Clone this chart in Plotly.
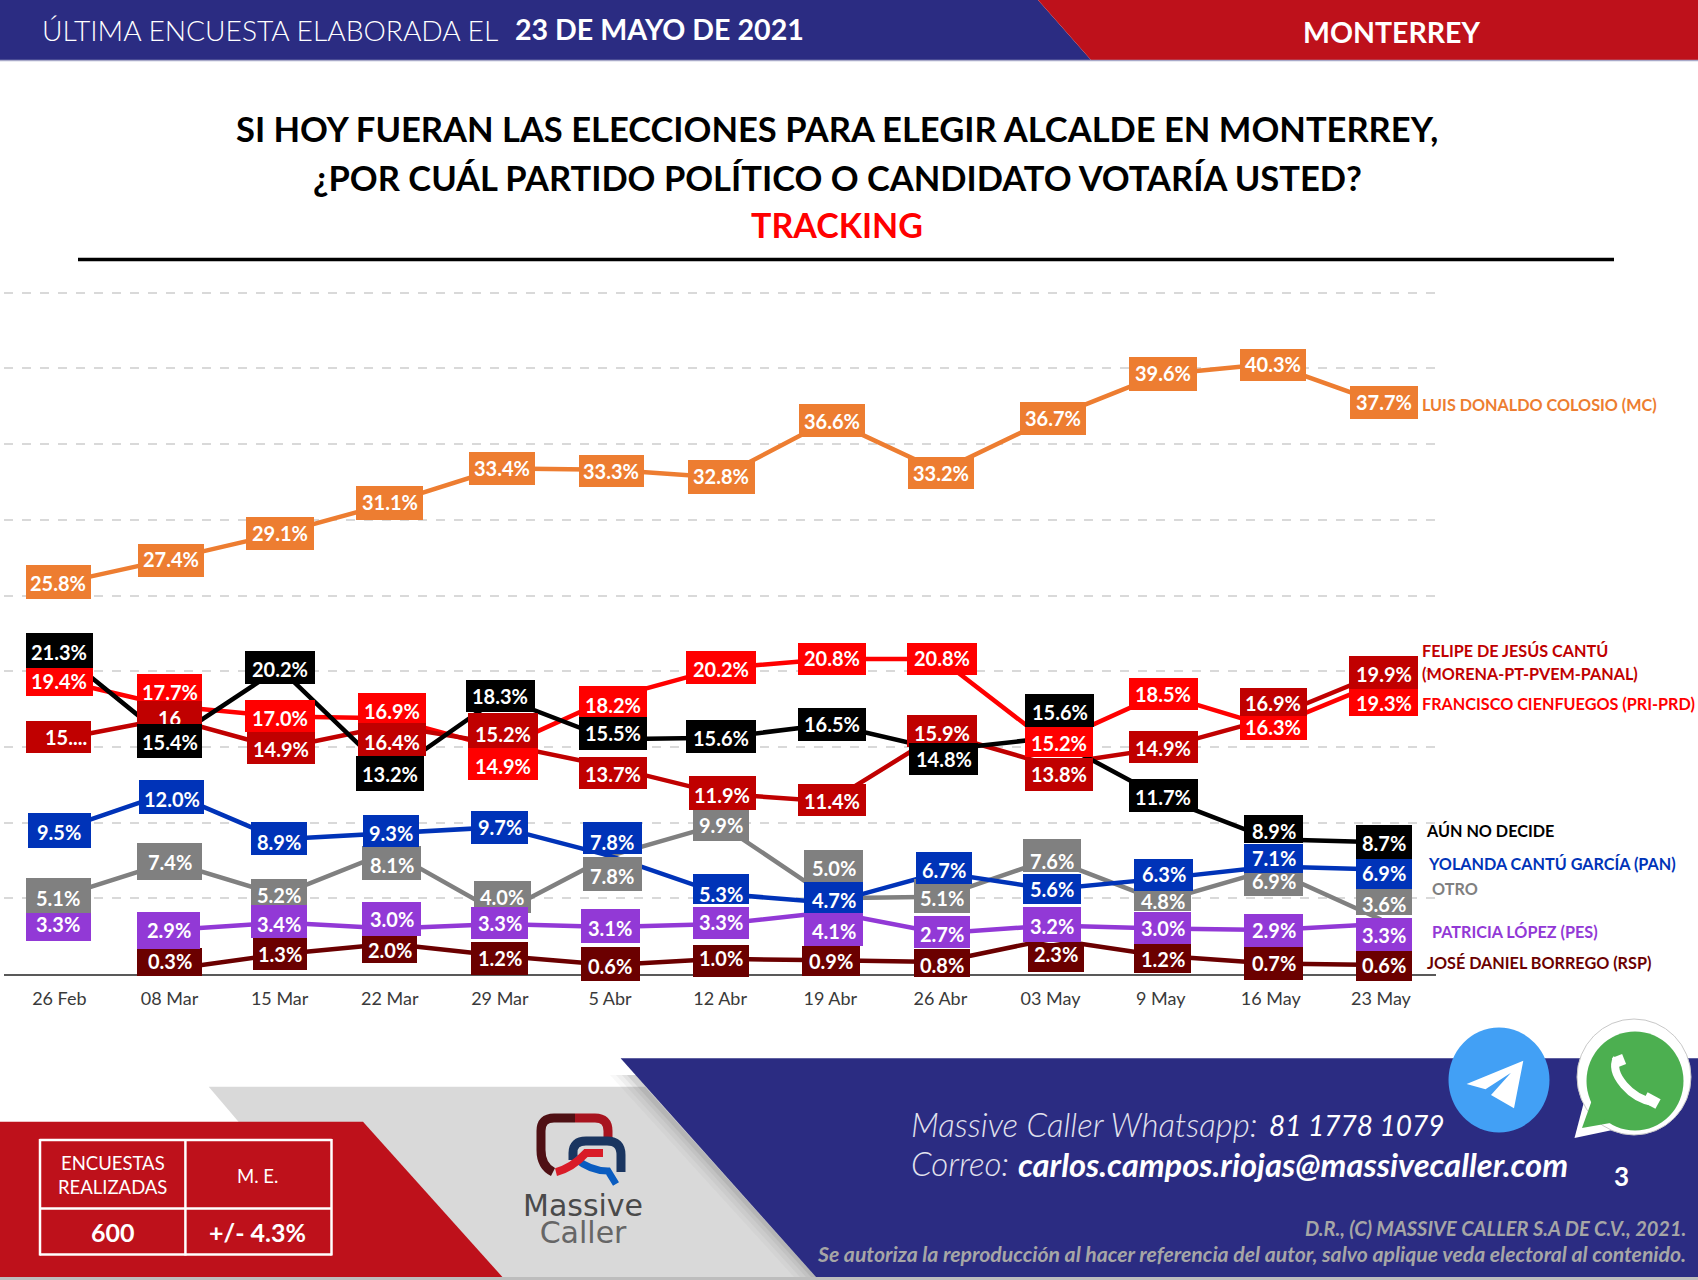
import plotly.graph_objects as go

W, H = 1698, 1280

categories = ["26 Feb", "08 Mar", "15 Mar", "22 Mar", "29 Mar", "5 Abr", "12 Abr", "19 Abr", "26 Abr", "03 May", "9 May", "16 May", "23 May"]
colosio = [25.8, 27.4, 29.1, 31.1, 33.4, 33.3, 32.8, 36.6, 33.2, 36.7, 39.6, 40.3, 37.7]
cienfuegos = [19.4, 17.7, 17.0, 16.9, 14.9, 18.2, 20.2, 20.8, 20.8, 15.2, 18.5, 16.3, 19.3]
cantu = [15.5, 16.9, 14.9, 16.4, 15.2, 13.7, 11.9, 11.4, 15.9, 13.8, 14.9, 16.9, 19.9]
no_decide = [21.3, 15.4, 20.2, 13.2, 18.3, 15.5, 15.6, 16.5, 14.8, 15.6, 11.7, 8.9, 8.7]
yolanda = [9.5, 12.0, 8.9, 9.3, 9.7, 7.8, 5.3, 4.7, 6.7, 5.6, 6.3, 7.1, 6.9]
otro = [5.1, 7.4, 5.2, 8.1, 4.0, 7.8, 9.9, 5.0, 5.1, 7.6, 4.8, 6.9, 3.6]
patricia = [3.3, 2.9, 3.4, 3.0, 3.3, 3.1, 3.3, 4.1, 2.7, 3.2, 3.0, 2.9, 3.3]
borrego = [None, 0.3, 1.3, 2.0, 1.2, 0.6, 1.0, 0.9, 0.8, 2.3, 1.2, 0.7, 0.6]
y_ticks = [0, 5, 10, 15, 20, 25, 30, 35, 40, 45]

# Label boxes: pixel nudges from the data point, box sizes, and text nudge inside the box (layout only).
OFFSETS = {
    "colosio": dict(
        dx=[-1, 1, 0, 0, 2, 1, 1, 1.5, 1, 2, 2.7, 2, 3.4],
        dy=[-1, 1, 0, 0, 0, 1, 0, 1, 2, 0, 0, 1, -1],
        w=[65, 66, 68, 67, 66, 65, 67, 66, 66, 66, 68, 66, 68],
        h=[34, 33, 33, 34, 33, 32, 34, 33, 32, 33, 34, 32, 33],
        ty=[1, -1, 0, -1, 0, 0, -1, 0, 0, 0, -1, -1, 0]),
    "cienfuegos": dict(
        dx=[0, 0, 0, 2, 2.7, 3, 1, 1.5, 1.4, 8, 2.5, 2.6, 3],
        dy=[2, -15, -1, -10, 16, 3, -1, 0, 0, -2, 0, 1, 20],
        w=[67, 65, 70, 68, 70, 68, 70, 68, 70, 68, 69, 67, 69],
        h=[28, 35, 32, 31, 32, 31, 33, 32, 32, 30, 32, 24, 28],
        ty=[-1, 1, 2, 3, 2, 4, 2, -1, -1, 1, 0, -1, 1]),
    "cantu": dict(
        dx=[-1, 0, 1, 2, 2.7, 3, 2, 1.5, 1.4, 8, 2.5, 2.6, 3],
        dy=[-2, 0, 0, 14, -13, 6, -1, -1, -2, 9, -1, -16, 0],
        w=[65, 65, 68, 68, 70, 68, 67, 68, 70, 68, 69, 67, 69],
        h=[32, 34, 32, 33, 35, 32, 34, 32, 32, 33, 32, 28, 33],
        ty=[0, 0, 1, 2, 3, 1, 2, 1, 2, 0, 1, 1, 1]),
    "no_decide": dict(
        dx=[0, 0, 0, 0, 0.5, 3, 1, 1.5, 3.4, 9, 2.5, 3, 3],
        dy=[-1, 0, -1, -1, -1, -6, -1, 0, 9, -27, -1, -10, 0],
        w=[67, 65, 70, 68, 69, 68, 70, 68, 69, 69, 69, 59, 56],
        h=[35, 34, 33, 35, 32, 33, 33, 33, 32, 33, 33, 28, 34],
        ty=[1, 1, 2, 1, 0, 0, 1, 0, 0, 1, 1, 2, 1]),
    "yolanda": dict(
        dx=[0, 2, -1, 1, 0, 2.4, 1, 3.5, 3.4, 1, 3, 3, 3],
        dy=[0, 5, -1, -2, 0, -18, -5, -5, -5, 0, -4, -8, 4],
        w=[63, 65, 56, 56, 57, 59, 56, 59, 56, 58, 59, 59, 56],
        h=[35, 34, 33, 32, 33, 32, 30, 31, 32, 30, 32, 29, 30],
        ty=[2, 2, 4, 2, 0, 4, 5, 2, 2, 0, -1, -1, -1]),
    "otro": dict(
        dx=[-1, 0, -1, 2, 2.5, 2.4, 1, 3.5, 1.4, 1, 2, 3, 3],
        dy=[-1, 0, 0, 12, -16, 18, 0, -32, -1, -3, -4, 12, -20],
        w=[65, 65, 56, 59, 57, 59, 56, 59, 56, 58, 57, 59, 56],
        h=[35, 37, 33, 34, 32, 34, 34, 33, 34, 33, 28, 28, 30],
        ty=[2, 0, 0, 2, 0, 2, 1, 2, 2, 5, 4, -1, 4]),
    "patricia": dict(
        dx=[-1, -1, -1, 2, 0, 0, 1, 3.5, 1.4, 1, 2, 3, 3],
        dy=[3, 0, -1, -10, -1, -1, -1, 18, -1, -1, -1, 0, 10],
        w=[65, 63, 56, 59, 57, 59, 56, 59, 56, 58, 57, 59, 56],
        h=[28, 37, 33, 34, 32, 34, 32, 33, 32, 35, 32, 33, 33],
        ty=[-3, 0, 2, 0, 0, 2, -1, 1, 2, 1, 0, 0, 1]),
    "borrego": dict(
        dx=[0, 0, 0, 0, 0, 0, 1, 1, 1.4, 5, 2, 3, 3],
        dy=[0, -7, 0, 4, 3, -1, 2, 1, 1, 18, 3, 0, 1],
        w=[0, 65, 54, 55, 57, 59, 56, 58, 56, 56, 57, 59, 56],
        h=[0, 28, 32, 30, 33, 34, 32, 30, 28, 29, 29, 33, 30],
        ty=[0, -1, 0, 2, -1, 2, -3, 0, 2, -3, 0, 0, -1]),
}
TEXT_OVERRIDES = {("cantu", 0): "15....", ("cantu", 1): "16"}
TEXT_DX = {("cantu", 0): 8}

COLORS = dict(colosio="#ED7D31", cienfuegos="#FF0000", cantu="#C00000", no_decide="#000000",
              yolanda="#0033B8", otro="#808080", patricia="#9239D6", borrego="#6B0000")
SERIES = dict(colosio=colosio, cienfuegos=cienfuegos, cantu=cantu, no_decide=no_decide,
              yolanda=yolanda, otro=otro, patricia=patricia, borrego=borrego)

NAVY, RED, GREY = "#2B2C82", "#BE111B", "#D9D9D9"
FONT = "Lato"
# The y axis runs slightly past 45 so that the top gridline is drawn.
Y_MAX = 46
AXIS_PX_BOTTOM, PX_PER_UNIT = 974, 15.14


def fx(x):
    return x / W


def fy(y):
    return 1 - y / H


def pt(x, y):
    return f"{fx(x):.5f},{fy(y):.5f}"


def poly(points, fill, opacity=1.0):
    d = "M " + " L ".join(pt(*p) for p in points) + " Z"
    return dict(type="path", xref="paper", yref="paper", path=d, fillcolor=fill,
                opacity=opacity, line=dict(width=0), layer="below")


def stroke(d, color, width):
    return dict(type="path", xref="paper", yref="paper", path=d,
                line=dict(color=color, width=width), layer="below")


def circle(cx, cy, rx, ry, fill, line=None):
    return dict(type="circle", xref="paper", yref="paper", x0=fx(cx - rx), x1=fx(cx + rx),
                y0=fy(cy + ry), y1=fy(cy - ry), fillcolor=fill,
                line=dict(color=line or fill, width=1 if line else 0), layer="below")


def hline(x0, x1, y, color, width):
    return dict(type="line", xref="paper", yref="paper", x0=fx(x0), x1=fx(x1), y0=fy(y), y1=fy(y),
                line=dict(color=color, width=width), layer="below")


def vline(x, y0, y1, color, width):
    return dict(type="line", xref="paper", yref="paper", x0=fx(x), x1=fx(x), y0=fy(y0), y1=fy(y1),
                line=dict(color=color, width=width), layer="below")


shapes = [
    poly([(0, 0), (1038, 0), (1091, 60), (0, 60)], NAVY),
    poly([(1038, 0), (W, 0), (W, 60), (1091, 60)], RED),
    hline(0, W, 60.5, "#A9AAC9", 1.5),
    hline(78, 1614, 259.5, "#000000", 3.5),
    poly([(208.7, 1086.7), (645, 1086.7), (816, 1277), (502, 1277), (238.5, 1121.7)], GREY),
]
for k, op in [(22, 0.04), (16, 0.06), (10, 0.08), (5, 0.11)]:
    shapes.append(poly([(632 - k, 1075), (700, 1075), (830, 1277), (816 - k, 1277)], "#555555", op))
shapes += [
    poly([(620.6, 1058.3), (W, 1058.3), (W, 1277), (816, 1277)], NAVY),
    poly([(0, 1121.7), (363, 1121.7), (502.4, 1277), (0, 1277)], RED),
    hline(0, W, 1278.5, "#BDBDBD", 3),
    # survey box
    hline(39.6, 331.7, 1140, "#FFFFFF", 2.5), hline(39.6, 331.7, 1208.5, "#FFFFFF", 2.5),
    hline(39.6, 331.7, 1254.5, "#FFFFFF", 2.5),
    vline(40, 1139, 1255.5, "#FFFFFF", 2.5), vline(185.4, 1139, 1255.5, "#FFFFFF", 2.5),
    vline(331.5, 1139, 1255.5, "#FFFFFF", 2.5),
    # logo
    stroke(f"M {pt(553,1172)} Q {pt(541,1166)} {pt(541,1150)} L {pt(541,1131)} Q {pt(541,1118)} {pt(554,1118)} L {pt(575,1118)}", "#4F1014", 9),
    stroke(f"M {pt(575,1118)} L {pt(595,1118)} Q {pt(608,1118)} {pt(608,1131)} L {pt(608,1140)}", "#A8141F", 9),
    stroke(f"M {pt(573,1160)} L {pt(573,1153)} Q {pt(573,1141)} {pt(586,1141)} L {pt(607,1141)} Q {pt(621,1141)} {pt(621,1155)} L {pt(621,1172)}", "#1A3560", 9),
    stroke(f"M {pt(575,1158)} Q {pt(590,1171)} {pt(608,1171)} L {pt(616,1184)}", "#0A5CC0", 7),
    stroke(f"M {pt(556,1172)} Q {pt(572,1168)} {pt(586,1153)} L {pt(603,1153)}", "#D91C28", 8),
    # telegram
    circle(1499, 1080, 50.5, 52.5, "#42A0F5"),
    poly([(1523.3, 1060.7), (1466.6, 1084), (1485.5, 1089.3), (1511, 1072.7), (1491, 1095), (1514, 1108.3)], "#FFFFFF"),
    # whatsapp
    poly([(1574.5, 1138), (1585, 1098), (1622, 1128)], "#FFFFFF"),
    circle(1634, 1077, 57, 58, "#FFFFFF", "#C8C8C8"),
    poly([(1582, 1128), (1592, 1100), (1616, 1122)], "#4CAF50"),
    circle(1635, 1081, 48.5, 49.5, "#4CAF50"),
    stroke(f"M {pt(1617,1058)} Q {pt(1611,1070)} {pt(1624,1085)} Q {pt(1636,1099)} {pt(1653,1102)}", "#FFFFFF", 8),
    stroke(f"M {pt(1617,1056)} L {pt(1621,1066)}", "#FFFFFF", 11),
    stroke(f"M {pt(1645,1097)} L {pt(1658,1104)}", "#FFFFFF", 11),
]

fig = go.Figure()
for key in ["otro", "patricia", "borrego", "yolanda", "cienfuegos", "cantu", "no_decide", "colosio"]:
    values = SERIES[key]
    line_values = [None] + values[1:] if key == "patricia" else values
    fig.add_trace(go.Scatter(x=categories, y=line_values, mode="lines", name=key,
                             line=dict(color=COLORS[key], width=4.5), connectgaps=False,
                             hoverinfo="skip", cliponaxis=False))

annotations = []
for key in ["colosio", "borrego", "otro", "patricia", "yolanda", "cienfuegos", "cantu", "no_decide"]:
    off = OFFSETS[key]
    for i, v in enumerate(SERIES[key]):
        if v is None:
            continue
        annotations.append(dict(
            x=categories[i], y=v, xref="x", yref="y", showarrow=False, text=" ",
            xshift=off["dx"][i], yshift=-off["dy"][i],
            width=off["w"][i], height=off["h"][i],
            bgcolor=COLORS[key], borderpad=0, borderwidth=0,
            font=dict(family=FONT, size=10, color=COLORS[key]),
        ))
        annotations.append(dict(
            x=categories[i], y=v, xref="x", yref="y", showarrow=False,
            text=TEXT_OVERRIDES.get((key, i), f"{v:.1f}%"),
            xshift=off["dx"][i] + TEXT_DX.get((key, i), 0),
            yshift=-(off["dy"][i] + off["ty"][i]),
            borderpad=0, borderwidth=0,
            font=dict(family=FONT, size=20, color="#FFFFFF", weight=700),
        ))


def note(x, y, text, size, color, anchor="left", weight=400, style="normal", family=FONT):
    annotations.append(dict(
        x=fx(x), y=fy(y), xref="paper", yref="paper", text=text, showarrow=False,
        xanchor=anchor, yanchor="middle", borderpad=0,
        font=dict(family=family, size=size, color=color, weight=weight, style=style)))


# Header
note(41, 29.5, "ÚLTIMA ENCUESTA ELABORADA EL", 28.2, "#FFFFFF", weight=300)
note(514, 29, "23 DE MAYO DE 2021", 28.6, "#FFFFFF", weight=700)
note(1391, 32, "MONTERREY", 28.5, "#FFFFFF", "center", 700)
# Title
note(837, 128.5, "SI HOY FUERAN LAS ELECCIONES PARA ELEGIR ALCALDE EN MONTERREY,", 34.5, "#000000", "center", 700)
note(837, 177.5, "¿POR CUÁL PARTIDO POLÍTICO O CANDIDATO VOTARÍA USTED?", 34.5, "#000000", "center", 700)
note(837, 224, "TRACKING", 34, "#FF0000", "center", 700)
# Series names
note(1420.5, 404.5, "LUIS DONALDO COLOSIO (MC)", 16.2, COLORS["colosio"], weight=700)
note(1421, 650.5, "FELIPE DE JESÚS CANTÚ", 16.2, COLORS["cantu"], weight=700)
note(1421, 673, "(MORENA-PT-PVEM-PANAL)", 16.2, COLORS["cantu"], weight=700)
note(1421, 703.5, "FRANCISCO CIENFUEGOS (PRI-PRD)", 16.2, COLORS["cienfuegos"], weight=700)
note(1424.5, 830.5, "AÚN NO DECIDE", 16.2, "#000000", weight=700)
note(1427, 863.5, "YOLANDA CANTÚ GARCÍA (PAN)", 16.2, COLORS["yolanda"], weight=700)
note(1431, 888, "OTRO", 16.2, COLORS["otro"], weight=700)
note(1431, 931.5, "PATRICIA LÓPEZ (PES)", 16.2, COLORS["patricia"], weight=700)
note(1426, 962.5, "JOSÉ DANIEL BORREGO (RSP)", 16.2, COLORS["borrego"], weight=700)
# Survey box
note(112.5, 1162.5, "ENCUESTAS", 18.5, "#FFFFFF", "center")
note(112.5, 1187, "REALIZADAS", 18.5, "#FFFFFF", "center")
note(257.5, 1175.5, "M. E.", 18.5, "#FFFFFF", "center")
note(112.5, 1232, "600", 25, "#FFFFFF", "center", 700)
note(257.5, 1232, "+/- 4.3%", 25, "#FFFFFF", "center", 700)
# Logo words: one text block with tight line spacing (set by the base font size)
note(582.5, 1219,
     '<span style="font-size:30px;color:#4A4A4A">Massive</span><br>'
     '<span style="font-size:30px;color:#666666">Caller</span>',
     20.5, "#4A4A4A", "center", 400, family="DejaVu Sans")
# Contact
note(910, 1124, "Massive Caller Whatsapp:", 33, "#E2E2EE", weight=300, style="italic")
note(1268, 1125, "81 1778 1079", 28, "#FFFFFF", style="italic")
note(910, 1163, "Correo:", 33, "#E2E2EE", weight=300, style="italic")
note(1017, 1164, "carlos.campos.riojas@massivecaller.com", 32.7, "#FFFFFF", weight=700, style="italic")
note(1621, 1176, "3", 26, "#FFFFFF", "center", 700)
note(1687, 1228, "D.R., (C) MASSIVE CALLER S.A DE C.V., 2021.", 20, "#A6A6A6", "right", 700, "italic")
note(1687, 1253.5, "Se autoriza la reproducción al hacer referencia del autor, salvo aplique veda electoral al contenido.", 21.2, "#A6A6A6", "right", 700, "italic")

fig.update_layout(
    width=W, height=H, margin=dict(l=0, r=0, t=0, b=0), showlegend=False,
    paper_bgcolor="#FFFFFF", plot_bgcolor="rgba(0,0,0,0)", hovermode=False,
    shapes=shapes, annotations=annotations,
    xaxis=dict(domain=[4.3 / W, 1436 / W], type="category", categoryorder="array",
               categoryarray=categories, range=[-0.5, 12.5], showgrid=False, zeroline=False,
               showline=True, linecolor="#595959", linewidth=2, ticks="outside", ticklen=7,
               tickcolor="rgba(0,0,0,0)", tickfont=dict(family=FONT, size=18, color="#3A3A3A")),
    yaxis=dict(domain=[1 - AXIS_PX_BOTTOM / H, 1 - (AXIS_PX_BOTTOM - Y_MAX * PX_PER_UNIT) / H],
               range=[0, Y_MAX], tickvals=y_ticks,
               showticklabels=False, showgrid=True, gridcolor="#D9D9D9", gridwidth=1.5,
               griddash="dash", zeroline=False, showline=False, ticks=""),
)

fig.write_html("out.html", config=dict(displayModeBar=False),
               post_script="document.body.style.margin='0';document.body.style.overflow='hidden';")
